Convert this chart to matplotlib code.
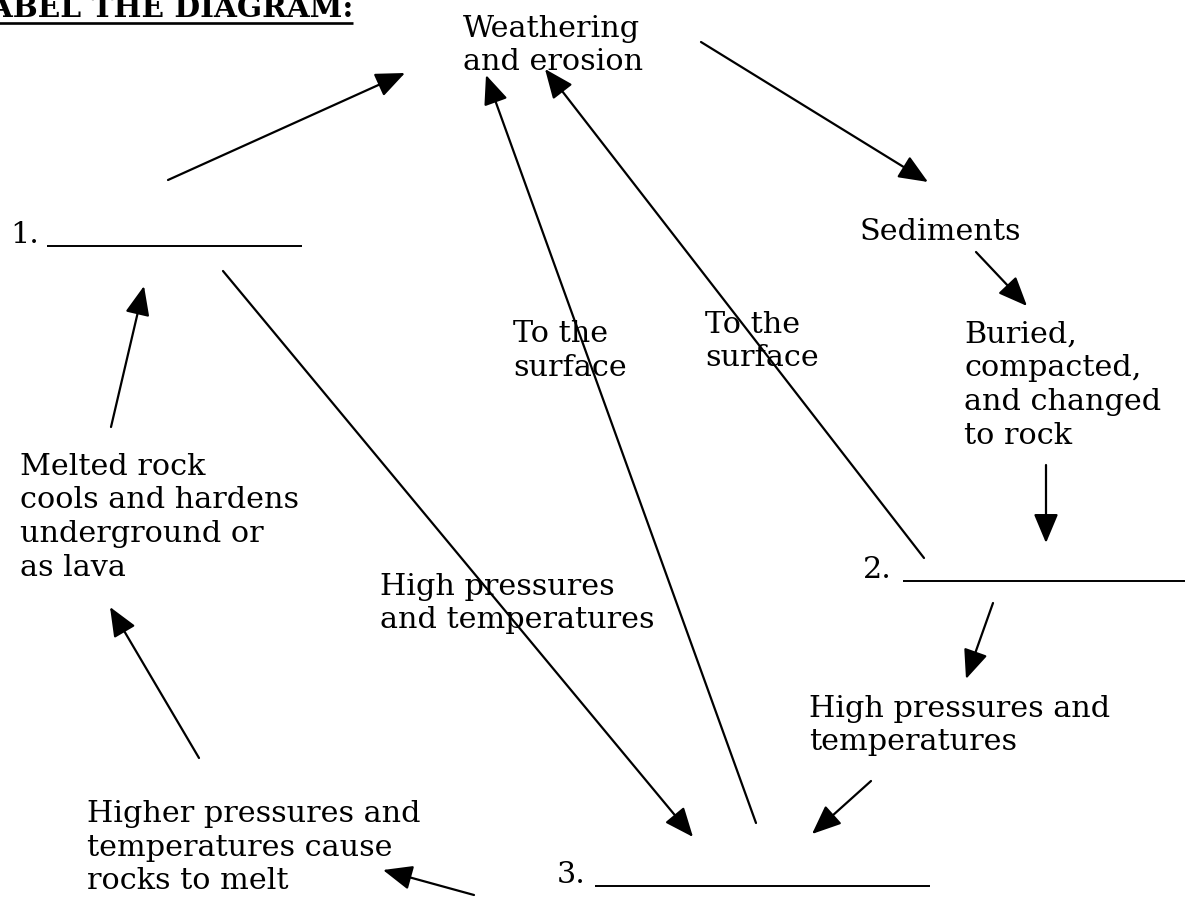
import matplotlib
matplotlib.use("Agg")
import matplotlib.pyplot as plt
from matplotlib.patches import FancyArrowPatch

# Canvas in pixels (origin top-left)
W, H = 1185, 897

title = "LABEL THE DIAGRAM:"
title_right = 353
title_base = 17

# Text blocks: (text, x, first-line baseline)
labels = [
    ("Weathering\nand erosion", 463, 37),
    ("Sediments", 860, 240),
    ("Buried,\ncompacted,\nand changed\nto rock", 964, 343),
    ("To the\nsurface", 513, 342),
    ("To the\nsurface", 705, 333),
    ("Melted rock\ncools and hardens\nunderground or\nas lava", 20, 475),
    ("High pressures\nand temperatures", 380, 595),
    ("High pressures and\ntemperatures", 809, 717),
    ("Higher pressures and\ntemperatures cause\nrocks to melt", 87, 822),
]

# Blanks to fill in: (number, x of number, baseline, blank start, blank end)
blanks = [
    ("1.", 10, 243, 47, 302),
    ("2.", 863, 578, 903, 1185),
    ("3.", 557, 883, 595, 930),
]

# Arrows: (tail x, tail y, head x, head y)
arrows = [
    (168, 180, 405, 73),
    (701, 42, 928, 182),
    (976, 252, 1027, 306),
    (1046, 465, 1046, 543),
    (993, 603, 966, 679),
    (871, 781, 812, 834),
    (756, 823, 486, 75),
    (924, 558, 545, 69),
    (223, 271, 693, 837),
    (111, 427, 144, 286),
    (199, 758, 110, 607),
    (474, 895, 383, 870),
]

FONT = "DejaVu Serif"
FS = 21.8
LINE = 33.5  # baseline-to-baseline, px

fig = plt.figure(figsize=(W / 100, H / 100), dpi=100)
ax = fig.add_axes([0, 0, 1, 1])
ax.set_xlim(0, W)
ax.set_ylim(H, 0)
ax.axis("off")

for txt, x, y in labels:
    for i, line in enumerate(txt.split("\n")):
        ax.text(x, y + i * LINE, line, fontsize=FS, family=FONT,
                ha="left", va="baseline", color="black")

for num, x, y, x0, x1 in blanks:
    ax.text(x, y, num, fontsize=FS, family=FONT, ha="left", va="baseline")
    ax.plot([x0, x1], [y + 3, y + 3], color="black", lw=1.4,
            solid_capstyle="butt")

for x0, y0, x1, y1 in arrows:
    ax.add_patch(FancyArrowPatch((x0, y0), (x1, y1),
                                 arrowstyle="-|>,head_length=1.0,head_width=0.42",
                                 mutation_scale=18, lw=1.6, color="black",
                                 shrinkA=0, shrinkB=0))

# Title: bold, underlined, running off the left edge
t = ax.text(title_right, title_base, title, fontsize=21.3, family=FONT,
            weight="bold", ha="right", va="baseline")
fig.canvas.draw()
bb = t.get_window_extent().transformed(ax.transData.inverted())
ax.plot([bb.x0, title_right], [title_base + 6, title_base + 6],
        color="black", lw=1.9, solid_capstyle="butt")

fig.savefig("out.png", dpi=100)
